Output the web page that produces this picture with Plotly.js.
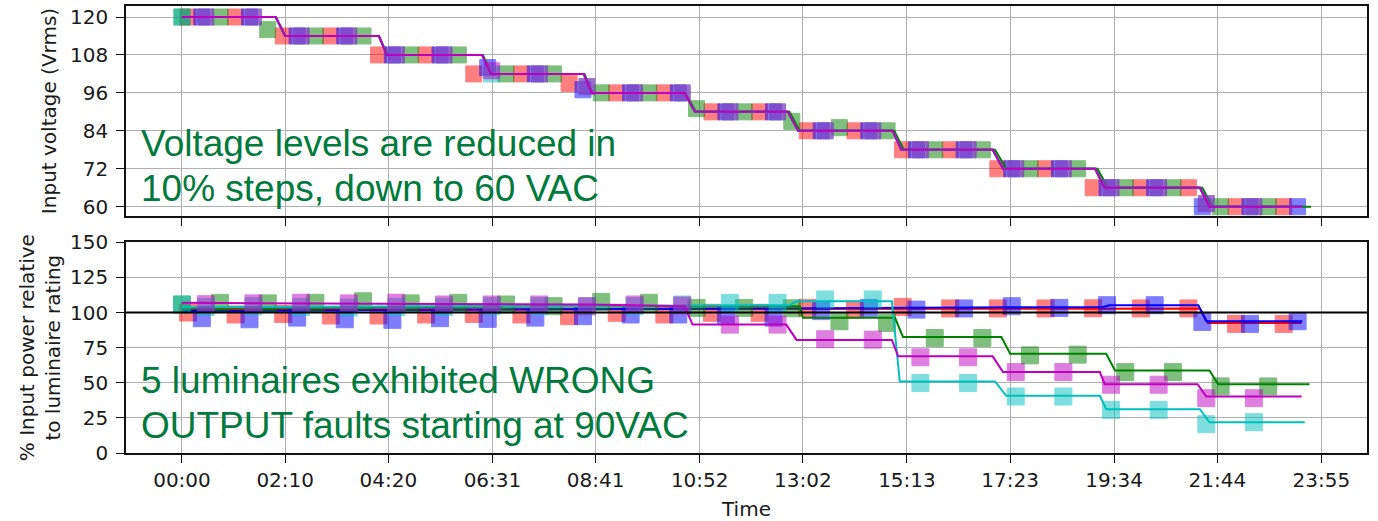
<!DOCTYPE html>
<html>
<head>
<meta charset="utf-8">
<script src="https://cdn.plot.ly/plotly-3.0.1.min.js"></script>
<style>
  html, body { margin: 0; padding: 0; background: #fff; }
  #chart { width: 1378px; height: 521px; }
</style>
</head>
<body>
<div id="chart"></div>
<script>
// ---------- tick labels (time of day, minutes from start) ----------
const tickLabels = ['00:00','02:10','04:20','06:31','08:41','10:52','13:02','15:13','17:23','19:34','21:44','23:55'];
const voltageTicks = [60, 72, 84, 96, 108, 120];
const powerTicks = [0, 25, 50, 75, 100, 125, 150];
const ratingLine = 100;

// ---------- series colours ----------
const seriesNames = ['red', 'blue', 'green', 'cyan', 'magenta'];
const seriesColors = ['#ff0000', '#0000ff', '#008000', '#00bfbf', '#bf00bf'];

// ---------- top panel: input voltage lines (breakpoints, minutes / Vrms) ----------
const voltLineT = [0,118,130,248,258,378,389,506,516,633,646,763,776,895,906,1021,1034,1150,1162,1282,1294,1411];
const voltLineV = [120,120,114,114,108,108,102,102,96,96,90,90,84,84,78,78,72,72,66,66,60,60];
const voltLineGreenT = [0,118,130,248,259,379,390,507,517,634,647,765,778,897,909,1024,1038,1153,1166,1285,1298,1422];
const voltLineGreenV = [120,120,114,114,108,108,102,102,96,96,90,90,84,84,78,78,72,72,66,66,60,60];

// ---------- marker sample times (minutes) ----------
const redT = [7.5,67.5,127.5,187.5,247.5,307.5,367.5,427.5,487.5,547.5,607.5,667.5,727.5,787.5,847.5,907.5,967.5,1027.5,1087.5,1147.5,1207.5,1267.5,1327.5,1387.5];
const blueT = [25,85,145,205,265,325,385,445,505,565,625,685,745,805,865,925,985,1045,1105,1165,1225,1285,1345,1405];
const greenT = [0,48,108,168,228,288,348,408,468,528,588,648,708,768,828,888,948,1008,1068,1128,1188,1248,1308,1368];
const cyanT = [0,30,90,150,210,270,330,390,450,510,570,630,690,750,810,870,930,990,1050,1110,1170,1230,1290,1350];
const magT = [30,90,150,210,270,330,390,450,510,570,630,690,750,810,870,930,990,1050,1110,1170,1230,1290,1350];

// ---------- top panel: voltage markers ----------
const redVolt = [120,120,114,114,108,108,102,102,99,96,96,90,90,84,84,78,78,72,72,66,66,66,60,60];
const blueVolt = [120,120,114,114,108,108,104,102,97,96,96,90,90,84,84,78,78,72,72,66,66,60,60,60];
const greenVolt = [120,120,116,114,114,108,108,102,102,96,96,91,90,87,85,84,78,78,72,72,66,66,60,60];
const cyanVolt = [120,120,120,114,114,108,108,102,102,98,96,96,90,90,84,84,78,78,72,72,66,66,61,60];
const magVolt = [120,120,114,114,108,108,103,102,98,96,96,90,90,84,84,78,78,72,72,66,66,61,60];

// ---------- bottom panel: power lines (breakpoints, minutes / %) ----------
const redPowT = [0,600,1282,1292,1410];
const redPowV = [102,102.5,102.9,92.6,92.6];
const bluePowT = [0,700,1000,1160,1168,1280,1290,1411];
const bluePowV = [101,102.5,103.5,104,105.2,105.2,93.8,93.8];
const greenPowT = [0,500,778,782,898,908,1032,1043,1164,1175,1294,1305,1420];
const greenPowV = [103,104.5,104.5,96.2,96.2,82.6,82.6,70.7,70.7,58.8,58.8,49,49];
const cyanPowT = [0,515,765,774,894,904,1024,1038,1156,1164,1282,1294,1414];
const cyanPowV = [103.8,104.5,105.2,108,108,50.9,50.9,40.7,40.7,31.2,31.2,21.9,21.9];
const magPowT = [0,514,633,643,761,774,894,902,1021,1034,1156,1162,1279,1290,1410];
const magPowV = [106.9,105.7,104.5,91.4,91.4,80.5,80.5,68.8,68.8,57.6,57.6,49,49,40.2,40.2];

// ---------- bottom panel: power markers ----------
const redPow = [100,98.6,99,97.9,97.9,98.6,99,98.6,97.4,99.8,98.6,99.8,99.8,103.3,102.1,104,102.9,102.9,102.9,103,102.9,102.9,91.9,91.9];
const bluePow = [96,95.2,96.4,95.2,94.8,96,95.5,96.4,97.4,98.6,98.6,98,96.4,101,103.3,102.1,102.9,104.5,103.3,105.2,105.2,93.3,91.9,93.8];
const greenPow = [105.7,106.9,106.5,106.9,108,106.5,106.9,105.7,104.5,107.6,106.9,103.3,103.3,103,93.8,92.6,81.9,81.9,69.5,70,57.6,57.6,47.4,47.4];
const cyanPow = [105.7,104,104.5,104,103.5,104,104,104.5,104.5,104.5,104.5,105.7,106.9,106.9,109.3,109.3,49.8,49.8,40.2,40.2,30.7,30.7,20.5,21.9];
const magPow = [105.9,106.5,107,106.5,107,105.7,105.7,105.7,104.5,105.7,105,91.4,91.4,81,80.7,68.1,68.1,57.6,57.6,48.6,48.6,39,39];

// ---------- annotation texts ----------
const noteTop = ['Voltage levels are reduced in', '10% steps, down to 60 VAC'];
const noteBottom = ['5 luminaires exhibited WRONG', 'OUTPUT faults starting at 90VAC'];

// =====================================================================
const tickVals = tickLabels.map(s => Number(s.slice(0, 2)) * 60 + Number(s.slice(3)));

const voltLines = [
  [voltLineT, voltLineV], [voltLineT, voltLineV], [voltLineGreenT, voltLineGreenV],
  [voltLineT, voltLineV], [voltLineT, voltLineV]
];
const voltMarks = [[redT, redVolt], [blueT, blueVolt], [greenT, greenVolt], [cyanT, cyanVolt], [magT, magVolt]];
const powLines = [[redPowT, redPowV], [bluePowT, bluePowV], [greenPowT, greenPowV], [cyanPowT, cyanPowV], [magPowT, magPowV]];
const powMarks = [[redT, redPow], [blueT, bluePow], [greenT, greenPow], [cyanT, cyanPow], [magT, magPow]];

const traces = [];
function addPanel(lines, marks, xa, ya, msize) {
  for (let i = 0; i < seriesNames.length; i++) {
    const c = seriesColors[i];
    traces.push({
      x: lines[i][0], y: lines[i][1], xaxis: xa, yaxis: ya, type: 'scatter', mode: 'lines',
      line: { color: c, width: 2 }, name: seriesNames[i], showlegend: false, hoverinfo: 'skip'
    });
    traces.push({
      x: marks[i][0], y: marks[i][1], xaxis: xa, yaxis: ya, type: 'scatter', mode: 'markers',
      marker: { symbol: 'square', size: msize, color: c, opacity: 0.5, line: { color: c, width: 1 } },
      name: seriesNames[i], showlegend: false, hoverinfo: 'skip'
    });
  }
}
addPanel(voltLines, voltMarks, 'x', 'y', 16);
addPanel(powLines, powMarks, 'x2', 'y2', 17);

const tickFont = { family: 'DejaVu Sans, sans-serif', size: 20, color: '#1a1a1a' };
const titleFont = { family: 'DejaVu Sans, sans-serif', size: 20, color: '#1a1a1a' };
const gridCol = '#b0b0b0';
const xRange = [-70.5, 1492.4];

const axisCommon = {
  showgrid: true, gridcolor: gridCol, gridwidth: 1.3,
  showline: true, linecolor: '#111', linewidth: 1.5, mirror: true,
  ticks: 'outside', ticklen: 8, tickwidth: 1.3, tickcolor: '#111',
  zeroline: false, tickfont: tickFont
};

const noteFont = { family: 'Liberation Sans, Arial, sans-serif', size: 37, color: '#007a3d' };
function note(text, yPaper) {
  return { text: text, xref: 'paper', yref: 'paper', x: 0.0105, y: yPaper,
    xanchor: 'left', yanchor: 'middle', showarrow: false, font: noteFont };
}

const layout = {
  width: 1378, height: 521,
  margin: { l: 126, r: 11, t: 6, b: 68 },
  paper_bgcolor: '#fff', plot_bgcolor: '#fff',
  showlegend: false,
  xaxis: Object.assign({}, axisCommon, {
    domain: [0, 1], anchor: 'y', range: xRange, tickvals: tickVals, ticktext: tickLabels,
    showticklabels: false
  }),
  yaxis: Object.assign({}, axisCommon, {
    domain: [0.5302, 1], anchor: 'x', range: [57.06, 123.48], tickvals: voltageTicks,
    ticklabelstandoff: 4,
    title: { text: 'Input voltage (Vrms)', font: titleFont, standoff: 8 }
  }),
  xaxis2: Object.assign({}, axisCommon, {
    domain: [0, 1], anchor: 'y2', range: xRange, tickvals: tickVals, ticktext: tickLabels,
    ticklabelstandoff: 0,
    title: { text: 'Time', font: titleFont, standoff: 13 }
  }),
  yaxis2: Object.assign({}, axisCommon, {
    domain: [0, 0.4714], anchor: 'x2', range: [0, 150], tickvals: powerTicks,
    ticklabelstandoff: 4,
    title: { text: '% Input power relative<br>to luminaire rating', font: titleFont, standoff: 4 }
  }),
  shapes: [{
    type: 'line', xref: 'x2 domain', x0: 0, x1: 1, yref: 'y2', y0: ratingLine, y1: ratingLine,
    line: { color: '#000', width: 2 }, layer: 'above'
  }],
  annotations: [
    note(noteTop[0], 0.6915), note(noteTop[1], 0.5908),
    note(noteBottom[0], 0.1622), note(noteBottom[1], 0.0615)
  ]
};

Plotly.newPlot('chart', traces, layout, { displayModeBar: false, responsive: false });
</script>
</body>
</html>
